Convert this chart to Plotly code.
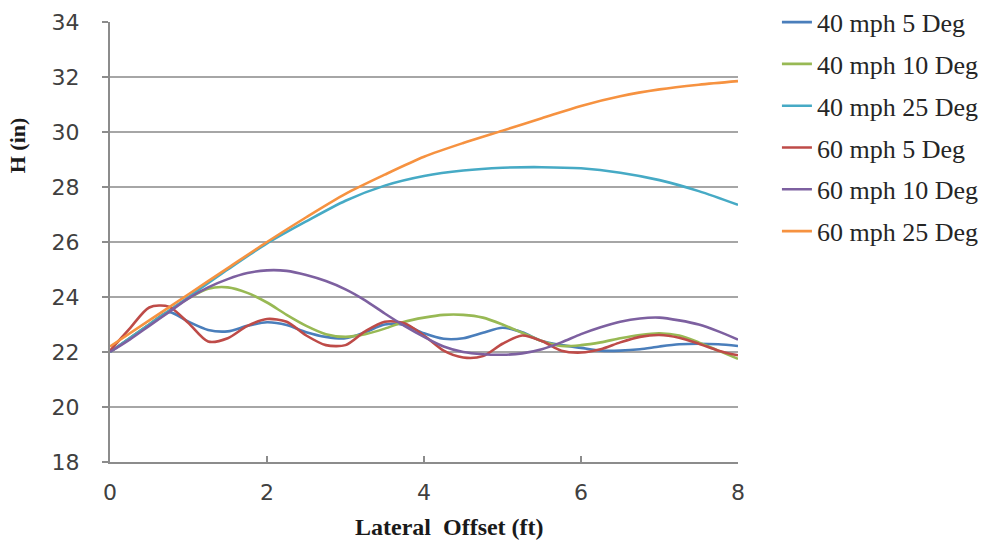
import plotly.graph_objects as go

# ---------------- data ----------------
x_q = [0, 0.25, 0.5, 0.75, 1, 1.25, 1.5, 1.75, 2, 2.25, 2.5, 2.75, 3, 3.25, 3.5, 3.75,
       4, 4.25, 4.5, 4.75, 5, 5.25, 5.5, 5.75, 6, 6.25, 6.5, 6.75, 7, 7.25, 7.5, 7.75, 8]
x_h = [0, 0.5, 1, 1.5, 2, 2.5, 3, 3.5, 4, 4.5, 5, 5.5, 6, 6.5, 7, 7.5, 8]

h_40_5 = [22.0, 22.5, 23.0, 23.45, 23.1, 22.8, 22.75, 22.95, 23.08, 22.98, 22.72, 22.55, 22.5,
          22.72, 23.0, 22.98, 22.68, 22.48, 22.5, 22.7, 22.88, 22.72, 22.4, 22.25, 22.15, 22.05,
          22.05, 22.1, 22.2, 22.28, 22.3, 22.28, 22.22]
h_40_10 = [22.0, 22.5, 23.0, 23.5, 23.95, 24.3, 24.35, 24.15, 23.8, 23.35, 22.95, 22.65, 22.55,
           22.65, 22.85, 23.1, 23.25, 23.35, 23.35, 23.25, 23.0, 22.7, 22.4, 22.22, 22.25, 22.35,
           22.5, 22.62, 22.68, 22.6, 22.35, 22.05, 21.75]
h_40_25 = [22.0, 23.0, 24.0, 25.0, 25.95, 26.75, 27.5, 28.05, 28.4, 28.6, 28.7, 28.72, 28.68,
           28.52, 28.25, 27.85, 27.35]
h_60_5 = [22.05, 22.85, 23.62, 23.65, 23.05, 22.38, 22.5, 22.95, 23.2, 23.1, 22.6, 22.25, 22.25,
          22.75, 23.1, 23.05, 22.6, 22.05, 21.8, 21.85, 22.3, 22.6, 22.4, 22.05, 21.98, 22.1,
          22.35, 22.55, 22.62, 22.52, 22.3, 22.05, 21.88]
h_60_10 = [22.0, 22.45, 22.95, 23.45, 23.95, 24.35, 24.65, 24.87, 24.97, 24.95, 24.8, 24.58, 24.28,
           23.88, 23.4, 22.95, 22.55, 22.2, 22.0, 21.92, 21.9, 21.95, 22.1, 22.35, 22.65, 22.9,
           23.1, 23.22, 23.25, 23.15, 23.0, 22.75, 22.45]
h_60_25 = [22.2, 23.15, 24.1, 25.05, 26.0, 26.9, 27.75, 28.45, 29.1, 29.6, 30.05, 30.5, 30.95,
           31.3, 31.55, 31.72, 31.85]

series_names = ["40 mph 5 Deg", "40 mph 10 Deg", "40 mph 25 Deg",
                "60 mph 5 Deg", "60 mph 10 Deg", "60 mph 25 Deg"]
series_x = [x_q, x_q, x_h, x_q, x_q, x_h]
series_y = [h_40_5, h_40_10, h_40_25, h_60_5, h_60_10, h_60_25]
series_colors = ["#4A7EBB", "#98B954", "#46AAC5", "#BE4B48", "#7D60A0", "#F69240"]

x_ticks = [0, 2, 4, 6, 8]
y_ticks = [18, 20, 22, 24, 26, 28, 30, 32, 34]

# ---------------- figure ----------------
fig = go.Figure()
for i, (name, xs, ys, col) in enumerate(zip(series_names, series_x, series_y, series_colors)):
    fig.add_trace(go.Scatter(
        x=xs, y=ys, name=name, mode="lines",
        line=dict(color=col, width=2.6, shape="spline", smoothing=0.8),
        legendgroup=f"g{i}",
    ))

axis_col = "#8C8C8C"
tick_font = dict(family="DejaVu Sans", size=22, color="#404040")

fig.update_layout(
    width=996, height=542,
    paper_bgcolor="white", plot_bgcolor="white",
    margin=dict(l=110, r=258, t=22, b=80, autoexpand=False),
    showlegend=True,
    legend=dict(
        x=1.062, y=1.053, xanchor="left", yanchor="top",
        font=dict(family="Liberation Serif", size=26, color="#262626"),
        traceorder="grouped", tracegroupgap=5,
        bgcolor="rgba(0,0,0,0)", borderwidth=0,
    ),
    xaxis=dict(
        range=[0, 8], tickvals=x_ticks, ticktext=[str(v) for v in x_ticks],
        showgrid=False, zeroline=False,
        showline=True, linecolor=axis_col, linewidth=2,
        ticks="inside", ticklen=6, tickwidth=2, tickcolor=axis_col,
        ticklabelstandoff=10,
        tickfont=tick_font,
    ),
    yaxis=dict(
        range=[18, 34], tickvals=y_ticks, ticktext=[str(v) for v in y_ticks],
        showgrid=True, gridcolor="#A6A6A6", gridwidth=2,
        zeroline=False,
        showline=True, linecolor=axis_col, linewidth=2,
        ticks="outside", ticklen=6, tickwidth=2, tickcolor=axis_col,
        ticklabelstandoff=18,
        tickfont=tick_font,
    ),
    annotations=[
        dict(text="<b>Lateral\u00a0 Offset (ft)</b>", xref="paper", yref="paper",
             x=0.541, y=-0.148, xanchor="center", yanchor="middle", showarrow=False,
             font=dict(family="Liberation Serif", size=24, color="#1a1a1a")),
        dict(text="<b>H (in)</b>", xref="paper", yref="paper",
             x=-0.148, y=0.72, xanchor="center", yanchor="middle", showarrow=False,
             textangle=-90,
             font=dict(family="Liberation Serif", size=22, color="#1a1a1a")),
    ],
)

fig.write_html(
    "out.html",
    config={"displayModeBar": False},
    post_script="document.body.style.margin='0';document.body.style.overflow='hidden';"
                "document.documentElement.style.overflow='hidden';",
)
